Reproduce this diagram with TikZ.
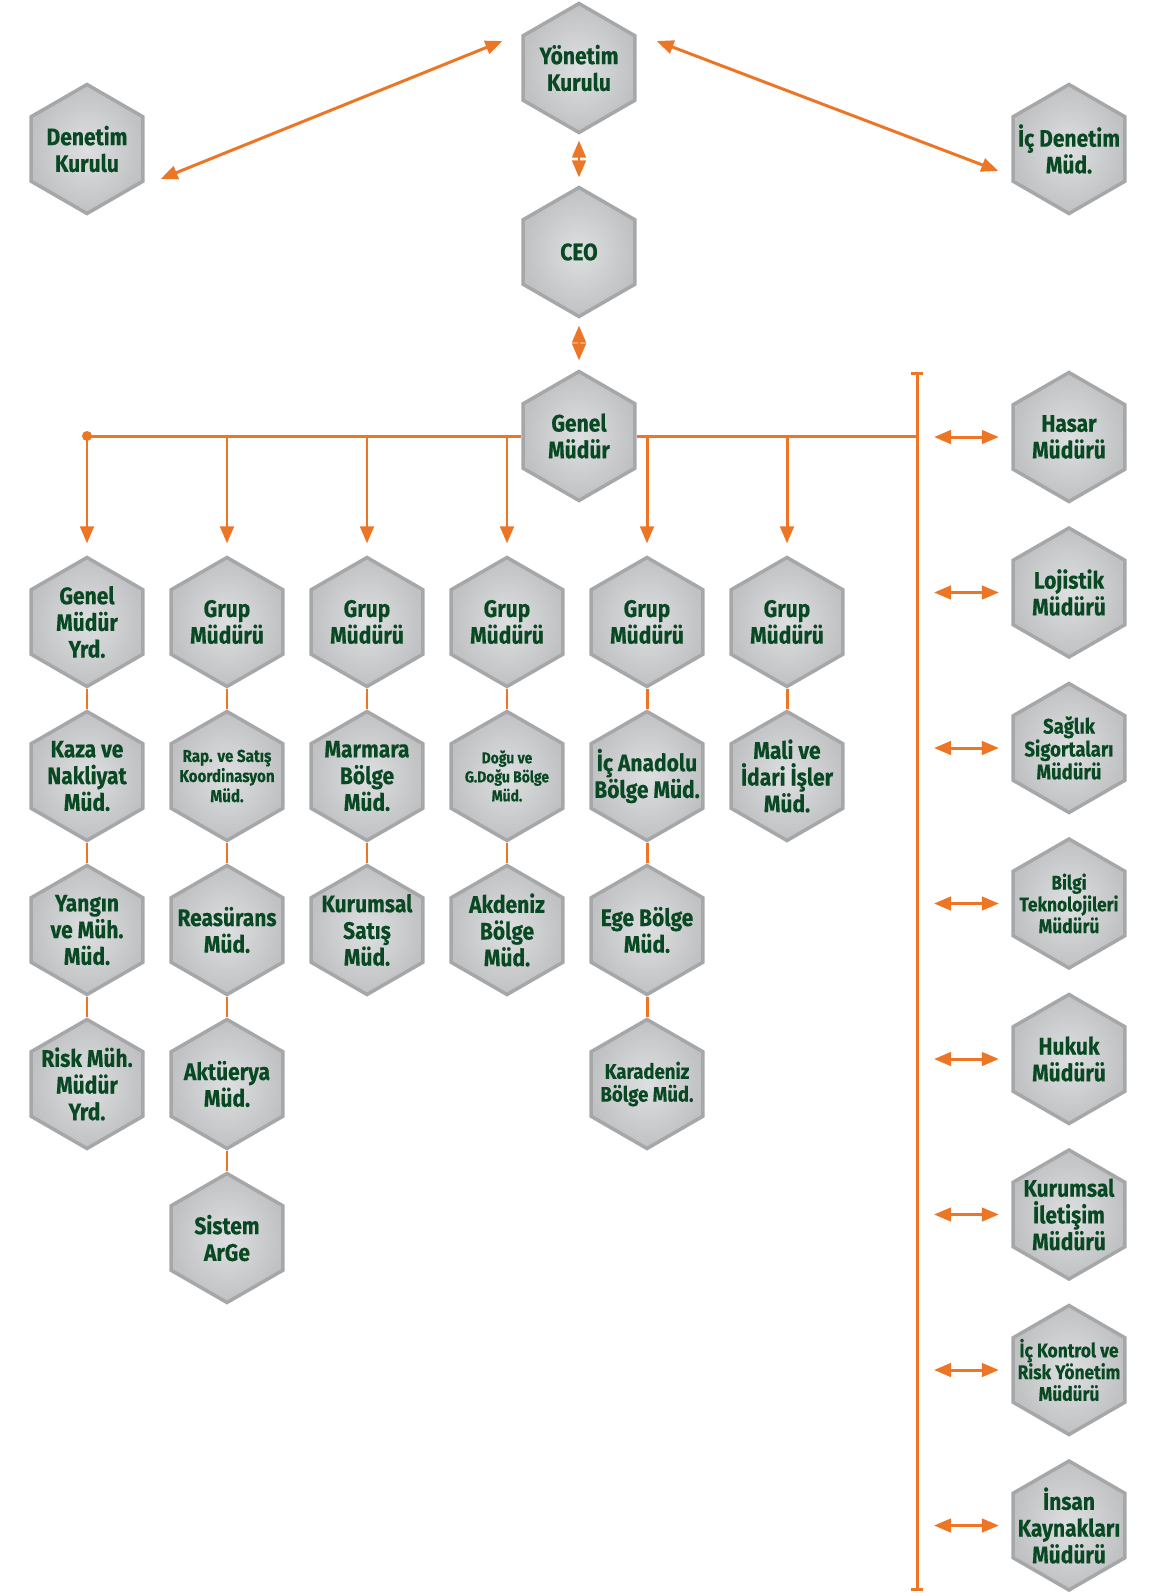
\documentclass[tikz,border=0pt]{standalone}
\usepackage{fontspec}
\setmainfont{Fira Sans}[FakeStretch=0.88, BoldFeatures={FakeBold=0.3}]
\usepackage{tikz}
\usetikzlibrary{shapes.geometric,arrows.meta,positioning}
\definecolor{hexorange}{RGB}{236,118,38}
\definecolor{hexgreen}{RGB}{8,72,34}
\definecolor{hexin}{RGB}{222,223,225}
\definecolor{hexout}{RGB}{192,193,195}
\definecolor{hexedge}{RGB}{166,167,169}
\tikzstyle{hex} =
  [regular polygon, regular polygon sides=6, shape border rotate=30,
   minimum size=2.58cm, inner sep=0pt, draw=hexedge, line width=2pt,
   inner color=hexin, outer color=hexout]
\tikzstyle{hextxt} =
  [text=hexgreen, align=center, font=\bfseries\fontsize{13.6}{15.2}\selectfont]
\tikzstyle{hexmid}=[hextxt, font=\bfseries\fontsize{12}{13}\selectfont]
\tikzstyle{hexsmall}=[hextxt, font=\bfseries\fontsize{11.2}{12.4}\selectfont]
\tikzstyle{hexrap}=[hextxt, font=\bfseries\fontsize{9.8}{11.4}\selectfont]
\tikzstyle{hextiny}=[hextxt, font=\bfseries\fontsize{9}{10.8}\selectfont]
\tikzstyle{orgline}=[draw=hexorange, line width=1.7pt]
\tikzstyle{downarr}=[orgline, -{Triangle[width=0.27cm,length=0.34cm]}, shorten >=0.24cm]
\tikzstyle{dblarr}=[orgline,
  {Triangle[width=0.27cm,length=0.34cm]}-{Triangle[width=0.27cm,length=0.34cm]}]

\begin{document}
\begin{tikzpicture}[node distance = 3.08cm]
  \useasboundingbox (0,0) rectangle (23.4,-31.86);

  % board and top management
  \node [hex, label={[hextxt]center:Yönetim\\Kurulu}] (yk) at (11.58,-1.36) {};
  \node [hex, label={[hextxt]center:Denetim\\Kurulu}] (dk) at (1.74,-2.98) {};
  \node [hex, label={[hextxt]center:İç Denetim\\Müd.}] (icd) at (21.38,-2.98) {};
  \node [hex, below of=yk, node distance=3.68cm, label={[hextxt]center:CEO}] (ceo) {};
  \node [hex, below of=ceo, node distance=3.68cm, label={[hextxt]center:Genel\\Müdür}] (gm) {};

  \draw [dblarr] ([shift={(-0.38,0.54)}]yk.west) to ([shift={(0.32,-0.6)}]dk.east);
  \draw [dblarr] ([shift={(0.40,0.54)}]yk.east) to ([shift={(-0.26,-0.44)}]icd.west);
  \draw [dblarr, shorten <=0.12cm, shorten >=0.16cm] (yk) to (ceo);
  \draw [dblarr, shorten <=0.14cm, shorten >=0.18cm] (ceo) to (gm);

  % first row
  \node [hex, label={[hextxt]center:Genel\\Müdür\\Yrd.}] (gmy) at (1.74,-12.44) {};
  \node [hex, right of=gmy, node distance=2.8cm, label={[hextxt]center:Grup\\Müdürü}] (grp1) {};
  \node [hex, right of=grp1, node distance=2.8cm, label={[hextxt]center:Grup\\Müdürü}] (grp2) {};
  \node [hex, right of=grp2, node distance=2.8cm, label={[hextxt]center:Grup\\Müdürü}] (grp3) {};
  \node [hex, right of=grp3, node distance=2.8cm, label={[hextxt]center:Grup\\Müdürü}] (grp4) {};
  \node [hex, right of=grp4, node distance=2.8cm, label={[hextxt]center:Grup\\Müdürü}] (grp5) {};

  % columns
  \node [hex, below of=gmy, label={[hextxt]center:Kaza ve\\Nakliyat\\Müd.}] (kaza) {};
  \node [hex, below of=kaza, label={[hextxt]center:Yangın\\ve Müh.\\Müd.}] (yangin) {};
  \node [hex, below of=yangin, label={[hextxt]center:Risk Müh.\\Müdür\\Yrd.}] (riskm) {};

  \node [hex, below of=grp1, label={[hexrap]center:Rap. ve Satış\\Koordinasyon\\Müd.}] (rap) {};
  \node [hex, below of=rap, label={[hextxt]center:Reasürans\\Müd.}] (reas) {};
  \node [hex, below of=reas, label={[hextxt]center:Aktüerya\\Müd.}] (aktu) {};
  \node [hex, below of=aktu, label={[hextxt]center:Sistem\\ArGe}] (arge) {};

  \node [hex, below of=grp2, label={[hextxt]center:Marmara\\Bölge\\Müd.}] (marm) {};
  \node [hex, below of=marm, label={[hextxt]center:Kurumsal\\Satış\\Müd.}] (kurs) {};

  \node [hex, below of=grp3, label={[hextiny]center:Doğu ve\\G.Doğu Bölge\\Müd.}] (dogu) {};
  \node [hex, below of=dogu, label={[hextxt]center:Akdeniz\\Bölge\\Müd.}] (akd) {};

  \node [hex, below of=grp4, label={[hextxt]center:İç Anadolu\\Bölge Müd.}] (icana) {};
  \node [hex, below of=icana, label={[hextxt]center:Ege Bölge\\Müd.}] (ege) {};
  \node [hex, below of=ege, label={[hexmid]center:Karadeniz\\Bölge Müd.}] (karad) {};

  \node [hex, below of=grp5, label={[hextxt]center:Mali ve\\İdari İşler\\Müd.}] (mali) {};

  \draw [orgline] (gmy) to (kaza);
  \draw [orgline] (kaza) to (yangin);
  \draw [orgline] (yangin) to (riskm);
  \draw [orgline] (grp1) to (rap);
  \draw [orgline] (rap) to (reas);
  \draw [orgline] (reas) to (aktu);
  \draw [orgline] (aktu) to (arge);
  \draw [orgline] (grp2) to (marm);
  \draw [orgline] (marm) to (kurs);
  \draw [orgline] (grp3) to (dogu);
  \draw [orgline] (dogu) to (akd);
  \draw [orgline] (grp4) to (icana);
  \draw [orgline] (icana) to (ege);
  \draw [orgline] (ege) to (karad);
  \draw [orgline] (grp5) to (mali);

  % right column
  \coordinate (bartop) at (18.34,-7.44);
  \coordinate (barbot) at (18.34,-31.82);
  \node [hex, label={[hextxt]center:Hasar\\Müdürü}] (hsr) at (21.38,-8.74) {};
  \node [hex, below of=hsr, node distance=3.11cm, label={[hextxt]center:Lojistik\\Müdürü}] (loj) {};
  \node [hex, below of=loj, node distance=3.11cm, label={[hexmid]center:Sağlık\\Sigortaları\\Müdürü}] (sag) {};
  \node [hex, below of=sag, node distance=3.11cm, label={[hexsmall]center:Bilgi\\Teknolojileri\\Müdürü}] (bt) {};
  \node [hex, below of=bt, node distance=3.11cm, label={[hextxt]center:Hukuk\\Müdürü}] (huk) {};
  \node [hex, below of=huk, node distance=3.11cm, label={[hextxt]center:Kurumsal\\İletişim\\Müdürü}] (kil) {};
  \node [hex, below of=kil, node distance=3.11cm, label={[hexsmall]center:İç Kontrol ve\\Risk Yönetim\\Müdürü}] (ikr) {};
  \node [hex, below of=ikr, node distance=3.11cm, label={[hextxt]center:İnsan\\Kaynakları\\Müdürü}] (ik) {};

  % orange bus
  \fill [hexorange] (gmy |- gm) circle (0.1cm);
  \draw [orgline] (gmy |- gm) to (gm);
  \draw [orgline] (gm) to (bartop |- gm);
  \draw [orgline, {Bar[width=0.24cm]}-{Bar[width=0.24cm]}] (bartop) to (barbot);
  \draw [downarr] (gmy |- gm) to (gmy);
  \draw [downarr] (grp1 |- gm) to (grp1);
  \draw [downarr] (grp2 |- gm) to (grp2);
  \draw [downarr] (grp3 |- gm) to (grp3);
  \draw [downarr] (grp4 |- gm) to (grp4);
  \draw [downarr] (grp5 |- gm) to (grp5);

  \draw [dblarr, shorten <=0.34cm, shorten >=0.25cm] (bartop |- hsr) to (hsr);
  \draw [dblarr, shorten <=0.34cm, shorten >=0.25cm] (bartop |- loj) to (loj);
  \draw [dblarr, shorten <=0.34cm, shorten >=0.25cm] (bartop |- sag) to (sag);
  \draw [dblarr, shorten <=0.34cm, shorten >=0.25cm] (bartop |- bt) to (bt);
  \draw [dblarr, shorten <=0.34cm, shorten >=0.25cm] (bartop |- huk) to (huk);
  \draw [dblarr, shorten <=0.34cm, shorten >=0.25cm] (bartop |- kil) to (kil);
  \draw [dblarr, shorten <=0.34cm, shorten >=0.25cm] (bartop |- ikr) to (ikr);
  \draw [dblarr, shorten <=0.34cm, shorten >=0.25cm] (bartop |- ik) to (ik);
\end{tikzpicture}
\end{document}
